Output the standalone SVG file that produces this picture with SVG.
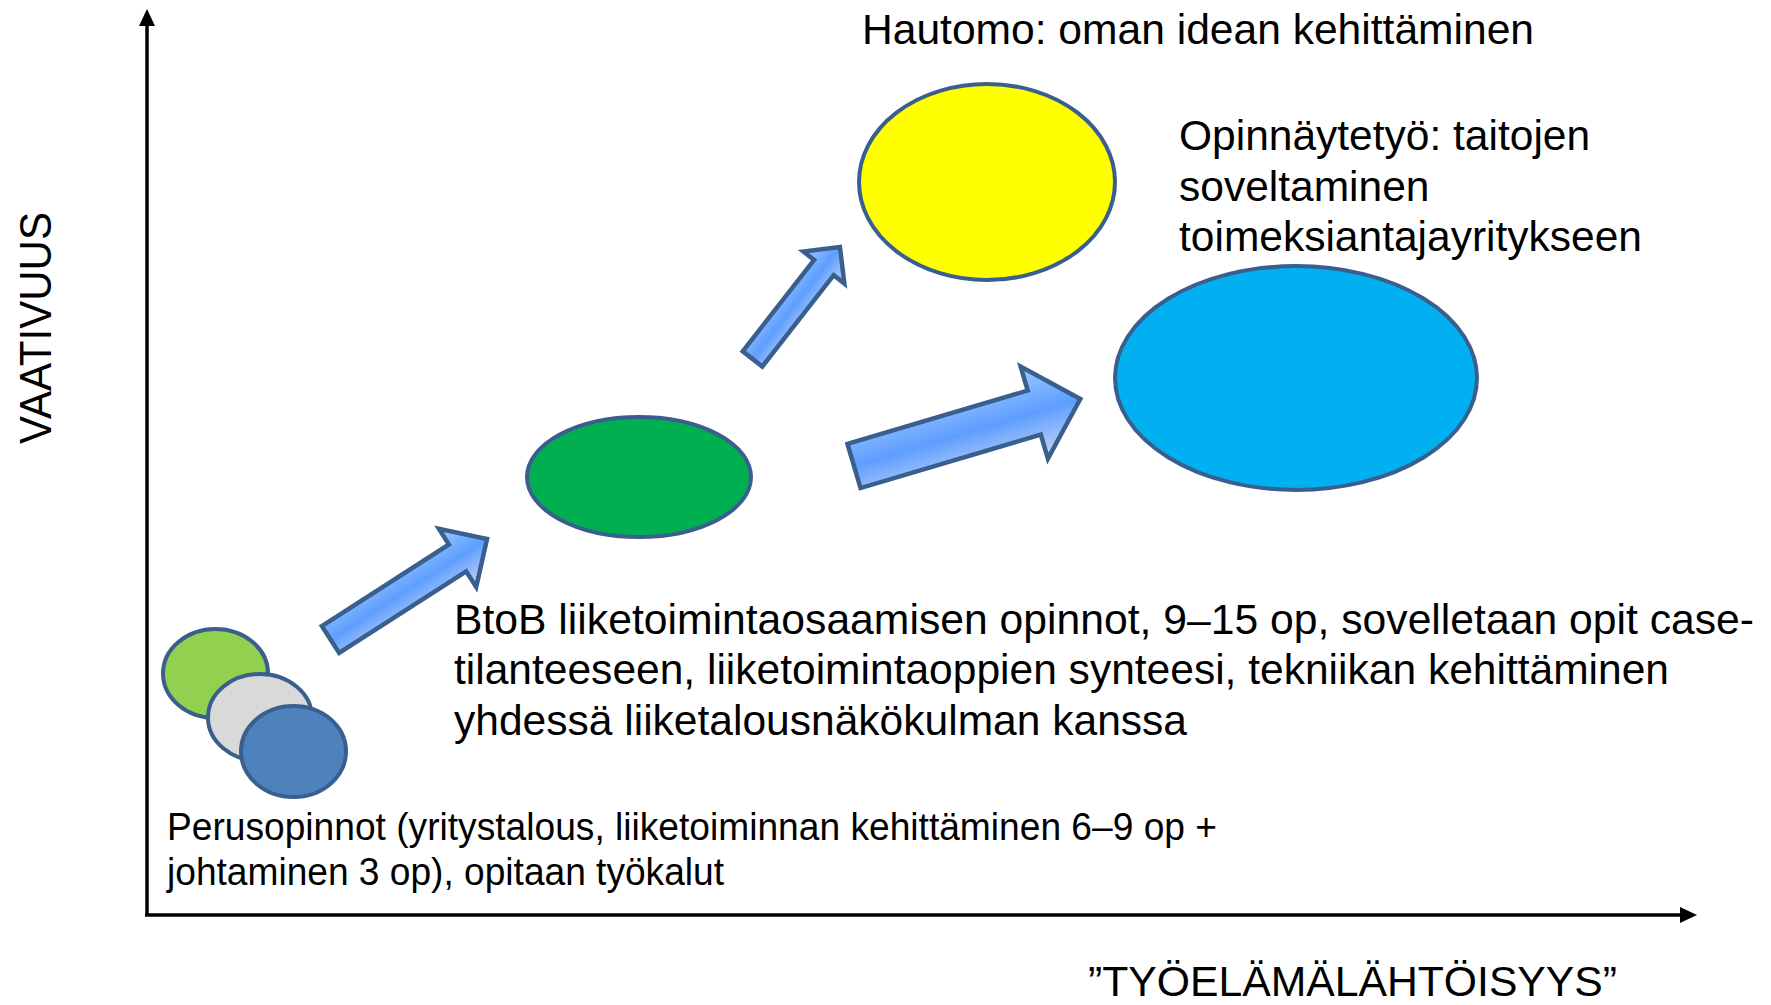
<svg xmlns="http://www.w3.org/2000/svg" width="1771" height="1005" viewBox="0 0 1771 1005">
<style>
.t{font-family:"Liberation Sans",Arial,sans-serif;fill:#000}
.n{stroke:#3A5F8E;stroke-width:4}
.arr{fill:url(#ag);stroke:#3A5F8E;stroke-width:4.5;stroke-linejoin:miter}
.ax{stroke:#000;stroke-width:3.5;fill:none}
</style>
<defs>
<linearGradient id="ag" x1="0" y1="0" x2="0" y2="1">
<stop offset="0" stop-color="#9ccaff"/>
<stop offset="0.5" stop-color="#5e9eff"/>
<stop offset="1" stop-color="#c6d6f2"/>
</linearGradient>
</defs>
<rect width="1771" height="1005" fill="#fff"/>
<g id="axes">
<line class="ax" x1="147" y1="915" x2="147" y2="24"/>
<polygon points="147,9 139,26 155,26" fill="#000"/>
<line class="ax" x1="145" y1="915" x2="1682" y2="915"/>
<polygon points="1697,915 1680,907 1680,923" fill="#000"/>
<text class="t" font-size="44" transform="translate(51,444) rotate(-90)" textLength="232" lengthAdjust="spacingAndGlyphs">VAATIVUUS</text>
<text class="t" x="1088" y="996" font-size="42" textLength="529" lengthAdjust="spacingAndGlyphs">”TYÖELÄMÄLÄHTÖISYYS”</text>
</g>
<g id="node-perusopinnot">
<ellipse class="n" cx="215.5" cy="673.5" rx="52.5" ry="44.5" fill="#92D050"/>
<ellipse class="n" cx="260" cy="717.5" rx="52" ry="43.5" fill="#D9D9D9"/>
<ellipse class="n" cx="293.5" cy="751.5" rx="52.5" ry="45.5" fill="#4F81BD"/>
<text class="t" font-size="38" x="167" y="840" textLength="1050" lengthAdjust="spacingAndGlyphs">Perusopinnot (yritystalous, liiketoiminnan kehittäminen 6–9 op +</text>
<text class="t" font-size="38" x="167" y="885" textLength="557" lengthAdjust="spacingAndGlyphs">johtaminen 3 op), opitaan työkalut</text>
</g>
<g id="node-btob">
<ellipse class="n" cx="639" cy="477" rx="112" ry="60" fill="#00B050"/>
<text class="t" font-size="42" x="454" y="634" textLength="1300" lengthAdjust="spacingAndGlyphs">BtoB liiketoimintaosaamisen opinnot, 9–15 op, sovelletaan opit case-</text>
<text class="t" font-size="42" x="454" y="684" textLength="1215" lengthAdjust="spacingAndGlyphs">tilanteeseen, liiketoimintaoppien synteesi, tekniikan kehittäminen</text>
<text class="t" font-size="42" x="454" y="735" textLength="733" lengthAdjust="spacingAndGlyphs">yhdessä liiketalousnäkökulman kanssa</text>
</g>
<g id="node-hautomo">
<ellipse class="n" cx="987" cy="182" rx="128" ry="98" fill="#FFFF00"/>
<text class="t" font-size="42" x="862" y="44" textLength="672" lengthAdjust="spacingAndGlyphs">Hautomo: oman idean kehittäminen</text>
</g>
<g id="node-opinnaytetyo">
<ellipse class="n" cx="1296" cy="378" rx="181" ry="112" fill="#00B0F0"/>
<text class="t" font-size="42.5" x="1179" y="150">Opinnäytetyö: taitojen</text>
<text class="t" font-size="42.5" x="1179" y="201">soveltaminen</text>
<text class="t" font-size="42.5" x="1179" y="251">toimeksiantajayritykseen</text>
</g>
<g id="connectors">
<path class="arr" transform="translate(330.5,639.5) rotate(-32.7)" d="M0,-16 L151,-16 L151,-34.5 L186,0 L151,34.5 L151,16 L0,16 Z"/>
<path class="arr" transform="translate(752.5,359) rotate(-52)" d="M0,-12.4 L116,-12.4 L116,-26 L142,0 L116,26 L116,12.4 L0,12.4 Z"/>
<path class="arr" transform="translate(854,466) rotate(-16.5)" d="M0,-23 L188,-23 L188,-48 L236,0 L188,48 L188,23 L0,23 Z"/>
</g>
</svg>
